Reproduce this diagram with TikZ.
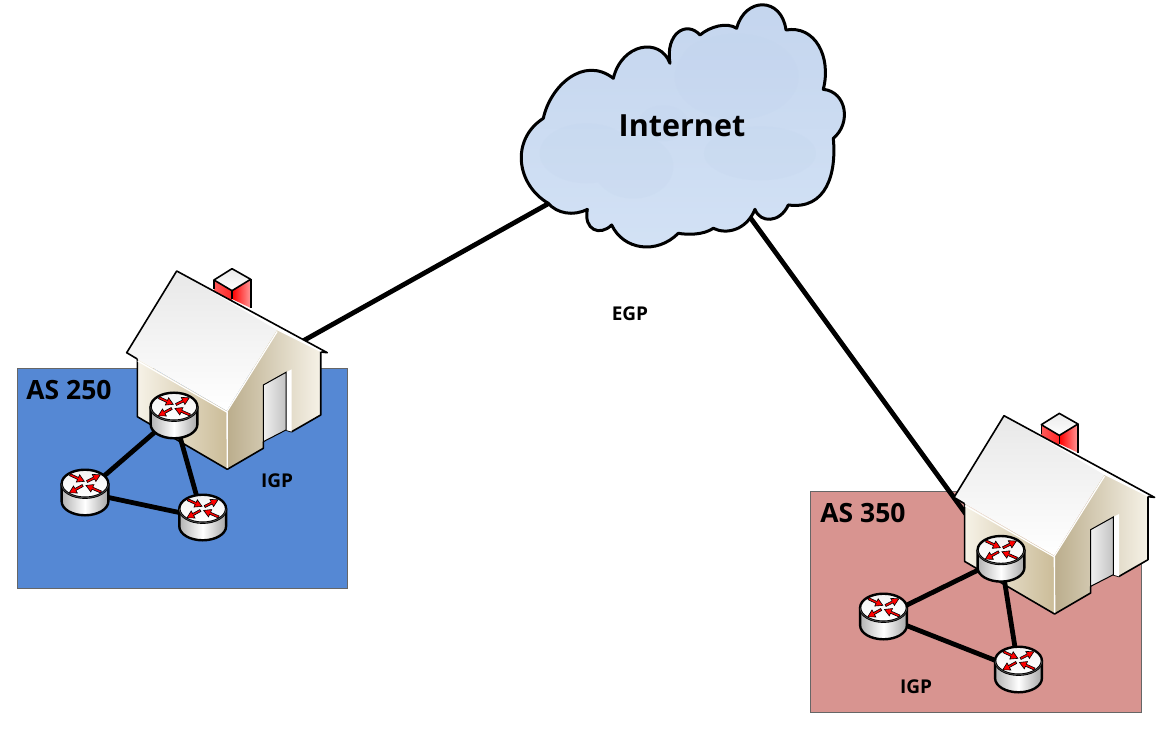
\documentclass[tikz,border=0pt]{standalone}
\usepackage{fontspec}
\setmainfont{Open Sans}
\usetikzlibrary{calc}
\definecolor{asblue}{HTML}{5588D4}
\definecolor{asred}{HTML}{D89490}
\definecolor{cloudtop}{HTML}{C4D5EE}
\definecolor{cloudbot}{HTML}{D3E2F5}
\definecolor{cloudblob}{HTML}{BFD2EC}
\definecolor{walltan}{HTML}{CBBC98}
\definecolor{cream}{HTML}{F6F2E7}
\newcommand{\cloudpath}{
  (100,355) .. controls (120,260) and (220,165) .. (310,235)
  .. controls (335,130) and (450,110) .. (480,190)
  .. controls (465,100) and (530,60) .. (570,105)
  .. controls (600,80) and (650,65) .. (680,85)
  .. controls (705,-10) and (815,-10) .. (828,90)
  .. controls (915,75) and (965,170) .. (940,268)
  .. controls (1010,275) and (1025,370) .. (970,415)
  .. controls (980,520) and (950,630) .. (835,615)
  .. controls (810,670) and (750,670) .. (735,628)
  .. controls (710,690) and (650,705) .. (610,685)
  .. controls (580,705) and (535,705) .. (505,700)
  .. controls (440,765) and (340,750) .. (305,675)
  .. controls (270,710) and (220,690) .. (232,628)
  .. controls (190,650) and (140,640) .. (115,610)
  .. controls (20,555) and (0,420) .. (100,355)
  -- cycle}
\tikzset{
  every picture/.append style={x=1pt,y=-1pt},
  label/.style={font=\bfseries,text=black,inner sep=0pt},
  asbox/.style={draw=black!60,line width=.8pt},
  wan/.style={line width=4.8pt,draw=black},
  lan/.style={line width=4.8pt,draw=black},
  outline/.style={draw=black,line width=1.6pt,line join=round},
  arrowred/.style={fill=red,draw=black,line width=.6pt,line join=miter},
  pics/rarrow/.style={code={
    \draw[arrowred] (0,-1.1) -- (#1-7,-1.1) -- (#1-7,-4) -- (#1,0)
      -- (#1-7,4) -- (#1-7,1.1) -- (0,1.1) -- cycle;}},
  pics/router/.style={code={
    % body
    \path[left color=black!30,right color=black!35,middle color=white]
      (-23.4,-8.8) -- (-23.4,8.8) arc[start angle=180,end angle=360,x radius=23.4pt,y radius=14pt]
      -- (23.4,-8.8) arc[start angle=0,end angle=180,x radius=23.4pt,y radius=14pt] -- cycle;
    \draw[line width=2.4pt,line join=round]
      (-23.4,-8.8) -- (-23.4,8.8) arc[start angle=180,end angle=360,x radius=23.4pt,y radius=14pt]
      -- (23.4,-8.8);
    % top
    \draw[line width=2.4pt,top color=black!5,bottom color=white]
      (0,-8.8) ellipse[x radius=23.4pt,y radius=14pt];
    \draw[black!70,line width=.7pt] (-23.4,-8.8) arc[start angle=180,end angle=360,x radius=23.4pt,y radius=14pt];
    % arrows
    \pic[rotate=-25] at (-15,-17.8) {rarrow=15.8};
    \pic[rotate=156.3] at (16,-.5) {rarrow=16.4};
    \pic[rotate=26.7] at (2,-11) {rarrow=14.9};
    \pic[rotate=208.6] at (-2.3,-7) {rarrow=15.3};
  }},
  pics/house/.style={code={
    % chimney
    \path[left color=red!65!white,right color=red!85!white]
      (37.3,9) -- (55.3,19.7) -- (55.3,30) -- (37.3,20) -- cycle;
    \path[left color=red,right color=red!40!white]
      (55.3,19.7) -- (74,8.3) -- (74,37) -- (55.3,28) -- cycle;
    \draw[outline,top color=black!8,bottom color=white]
      (55.3,-2.3) -- (74,8.3) -- (55.3,19.7) -- (37.3,9) -- cycle;
    \draw[outline] (37.3,9) -- (37.3,18) (55.3,19.7) -- (55.3,28) (74,8.3) -- (74,37);
    % walls
    \path[left color=cream,right color=walltan]
      (-39.4,88) -- (-39.4,145.7) -- (50.6,198.3) -- (50,139.7) -- cycle;
    \path[left color=walltan!92!black,right color=cream]
      (50.6,198.3) -- (86.6,177.3) -- (86.6,170.7) -- (109.3,159) -- (115,160.7)
      -- (144,144) -- (144,79) -- (100,59) -- (50,139.7) -- cycle;
    \draw[outline] (-39.4,88) -- (-39.4,145.7) -- (50.6,198.3) -- (86.6,177.3) -- (86.6,170.7)
      (109.3,159) -- (115,160.7) -- (144,144) -- (144,79);
    \fill[white] (109.3,101.3) -- (115,98.3) -- (115,160.7) -- (109.3,159) -- cycle;
    \draw[line width=1pt,left color=black!6,right color=black!24]
      (86.6,114) -- (109.3,101.3) -- (109.3,159) -- (86.6,170.7) -- cycle;
    \draw[white,line width=1.4pt] (50.4,141) -- (50.6,197);
    % roof
    \fill[white] (0,0) -- (150.6,81.7) -- (144,81) -- (100,59) -- cycle;
    \path[top color=black!9,bottom color=white]
      (0,0) -- (-50,81.7) -- (50,139.7) -- (100,59) -- cycle;
    \draw[white,line width=1.2pt] (-39,90) -- (50,141) -- (100.5,60.5);
    \draw[outline] (144,81) -- (150.6,81.7) -- (0,0) -- (-50,81.7) -- (-39.4,88);
  }}
}
\begin{document}
\begin{tikzpicture}
  \useasboundingbox (0,0) rectangle (1170,746);
  % AS areas
  \draw[asbox,fill=asblue] (17,368) rectangle (347,588);
  \draw[asbox,fill=asred] (810,491) rectangle (1141,712);
  % anchor points
  \coordinate (c1) at (680,130);
  \coordinate (c2) at (720,176);
  \coordinate (h1) at (260,365);
  \coordinate (h2) at (1000,561);
  \coordinate (r1) at (174,415.5);
  \coordinate (r2) at (85,492.5);
  \coordinate (r3) at (202.7,517.5);
  \coordinate (r4) at (1001,558.8);
  \coordinate (r5) at (883.5,616.5);
  \coordinate (r6) at (1018.5,669.5);
  % wan links
  \draw[wan] (c1) -- (h1);
  \draw[wan] (c2) -- (h2);
  % cloud
  \begin{scope}[shift={(510,0)},x=.3333pt,y=-.3333pt]
    \begin{scope}
      \path[clip] \cloudpath;
      \fill[top color=cloudtop,bottom color=cloudbot] (0,0) rectangle (1020,770);
      \fill[cloudblob,opacity=.18] (230,460) ellipse[x radius=47pt,y radius=30pt]
        (370,500) ellipse[x radius=40pt,y radius=32pt]
        (680,230) ellipse[x radius=62pt,y radius=43pt]
        (620,190) ellipse[x radius=36pt,y radius=25pt]
        (750,460) ellipse[x radius=56pt,y radius=27pt]
        (460,370) ellipse[x radius=25pt,y radius=18pt];
    \end{scope}
    \draw[line width=3pt,line join=round] \cloudpath;
  \end{scope}
  % houses
  \pic at (176.7,271) {house};
  \pic at (1004,415.7) {house};
  % lan links
  \draw[lan] (r1) -- (r2);
  \draw[lan] (r1) -- (r3);
  \draw[lan] (r2) -- (r3);
  \draw[lan] (r4) -- (r5);
  \draw[lan] (r4) -- (r6);
  \draw[lan] (r5) -- (r6);
  % routers
  \foreach \r in {r1,r2,r3,r4,r5,r6} \pic at (\r) {router};
  % labels
  \node[label,font=\bfseries\fontsize{30.5}{31}\selectfont] (inet) at (682,126) {Internet};
  \node[label,font=\bfseries\fontsize{26.5}{27}\selectfont] (as1) at (69,390) {AS 250};
  \node[label,font=\bfseries\fontsize{26.5}{27}\selectfont] (as2) at (863,513) {AS 350};
  \node[label,font=\bfseries\fontsize{19}{19}\selectfont] (egp) at (630,314) {EGP};
  \node[label,font=\bfseries\fontsize{19}{19}\selectfont] (igp1) at (277,481) {IGP};
  \node[label,font=\bfseries\fontsize{19}{19}\selectfont] (igp2) at (916,687) {IGP};
\end{tikzpicture}
\end{document}
